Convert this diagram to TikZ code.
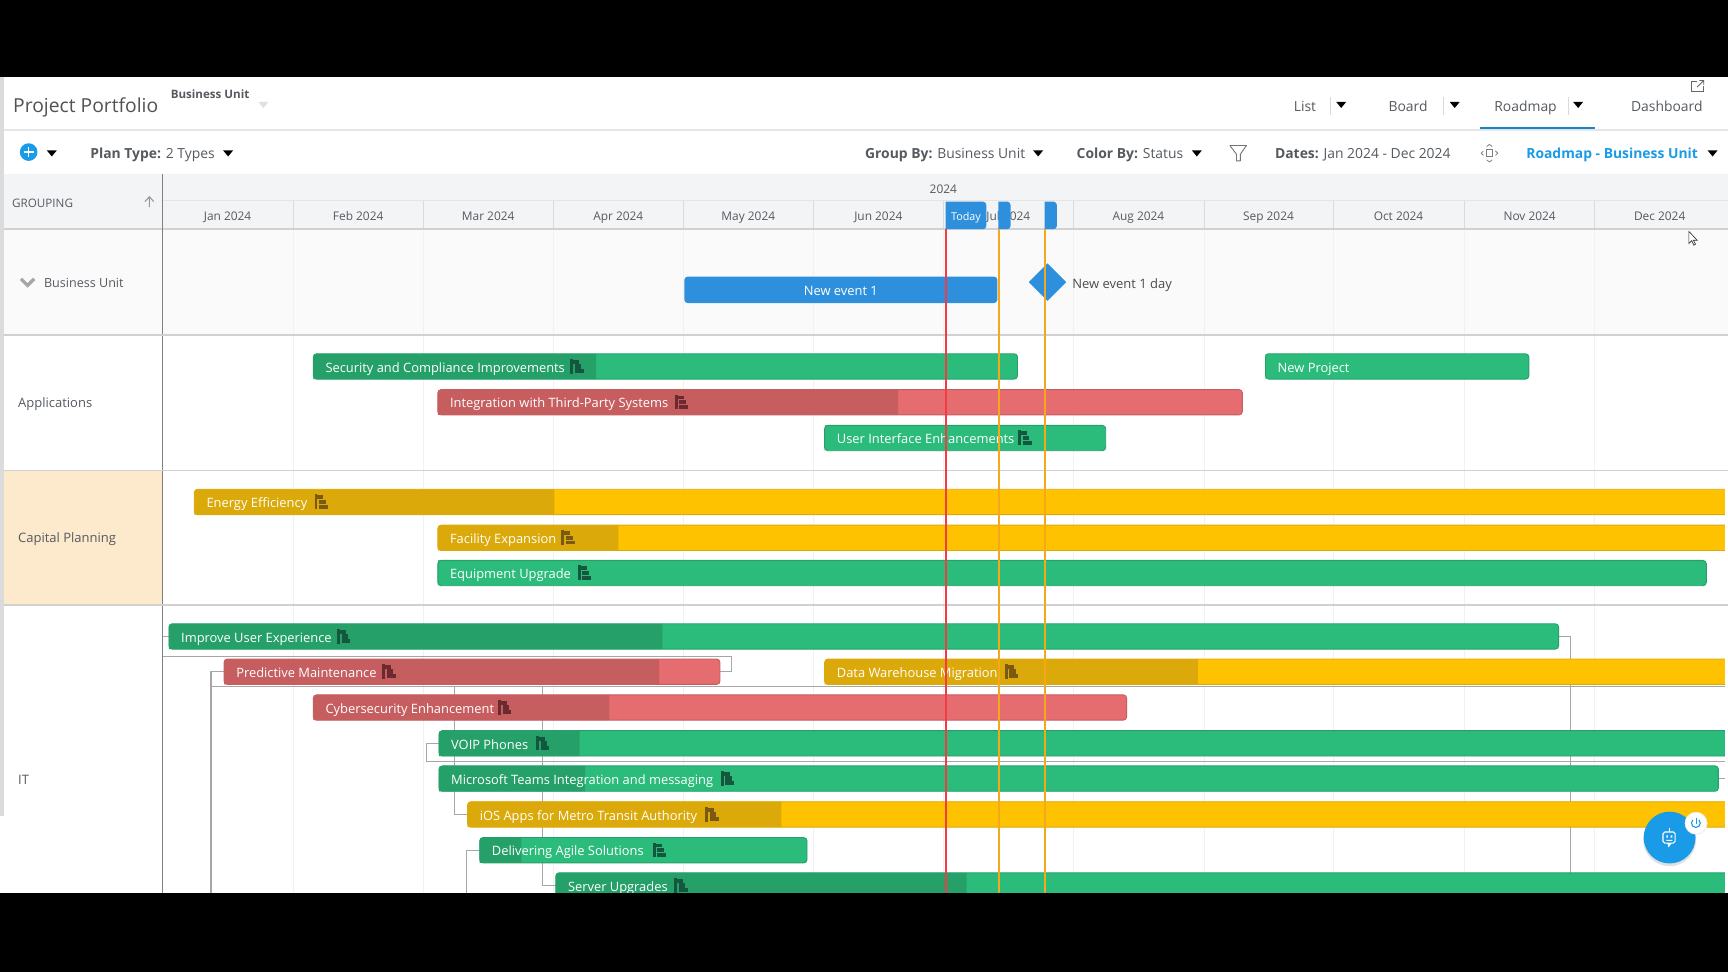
\documentclass[tikz,border=0pt]{standalone}
\usepackage{fontspec}
\setmainfont{Open Sans}
\usetikzlibrary{shapes.geometric}
\definecolor{gbar}{HTML}{2BBB7B}
\definecolor{gbard}{HTML}{25A069}
\definecolor{gbarx}{HTML}{14573E}
\definecolor{rbar}{HTML}{E56C6F}
\definecolor{rbard}{HTML}{C65D5F}
\definecolor{rbarx}{HTML}{6B2A2D}
\definecolor{ybar}{HTML}{FFC200}
\definecolor{ybard}{HTML}{DBA90A}
\definecolor{ybarx}{HTML}{7A5A12}
\definecolor{evblue}{HTML}{2E90DC}
\definecolor{linkblue}{HTML}{1A9BE8}
\definecolor{inktext}{HTML}{555A60}
\definecolor{headbg}{HTML}{F3F4F6}
\definecolor{rowline}{HTML}{D0D0D0}
\definecolor{gridline}{HTML}{F1F1F1}
\definecolor{capbg}{HTML}{FDE9CB}
\definecolor{todayred}{HTML}{F23B45}
\definecolor{markorange}{HTML}{F5A81C}
\pgfdeclarelayer{rows}
\pgfdeclarelayer{links}
\pgfsetlayers{rows,links,main}
\tikzset{
  lab/.style={inner sep=0, outer sep=0, anchor=west, text=inktext, text height=.72em, text depth=.2em, font=\fontsize{6.3pt}{7pt}\selectfont},
  month/.style={lab, anchor=center, font=\fontsize{5.4pt}{7pt}\selectfont},
  grouplab/.style={lab, font=\fontsize{5.9pt}{7pt}\selectfont},
  planbar/.style={rounded corners=1.5pt, minimum height=11.5pt, inner sep=0, outer sep=0, line width=.4pt},
  bartext/.style={lab, text=white, font=\fontsize{5.85pt}{7pt}\selectfont},
  linkline/.style={draw=black!35, line width=.6pt},
  todayline/.style={line width=.9pt},
  planicon/.pic={
    \fill[#1] (-6,-7) rectangle (-3.5,6.5);
    \fill[#1] (-3.5,-6) rectangle (2,-2.5);
    \fill[#1] (-2,-2) rectangle (4,2);
    \fill[#1] (-2,2.5) rectangle (6,6);
  },
  caret/.pic={\fill[#1] (-4.5,-2.5) -- (4.5,-2.5) -- (0,3) -- cycle;},
  caret/.default=black!65
}
\begin{document}
\begin{tikzpicture}[x=.5pt,y=-.5pt]
\useasboundingbox (0,0) rectangle (1568,882);

\coordinate (axis) at (148,0);
\coordinate (rightend) at (1565,0);

% rows and month grid
\begin{pgfonlayer}{rows}
\fill[white] (0,70) rectangle (1568,810);
\fill[black!14] (0,70) rectangle (4,740);
\fill[headbg] (4,158) rectangle (1568,208);
\fill[black!2] (4,208) rectangle (1568,304);
\fill[capbg] (4,427) rectangle (147,549);
\foreach \bx in {266,384,502,620,738,856,974,1093,1210,1329,1447}{
    \draw[gridline, line width=.5pt] (\bx,208) -- (\bx,810);
    \draw[black!14, line width=.5pt] (\bx,182) -- (\bx,208);
}
\draw[black!10, line width=.5pt] (148,182) -- (1568,182);
\draw[black!18, line width=.7pt] (4,208) -- (1568,208);
\end{pgfonlayer}
\draw[black!50, line width=.5pt] (147.5,158) -- (147.5,810);

% top bar
\draw[black!10, line width=.7pt] (4,118) -- (1568,118);
\node[lab, font=\fontsize{8.75pt}{11pt}\selectfont, text=black!68] (title) at (12,96.5) {Project Portfolio};
\node[lab, font=\bfseries\fontsize{5.25pt}{7pt}\selectfont] (unitpick) at (155,84.5) {Business Unit};
\pic at (239,95) {caret=black!12};
\foreach \name/\tx/\sx/\cx/\txt in {list/1174/1207/1217/List,board/1260/1310/1320/Board,road/1356/1423/1432/Roadmap}{
    \node[lab] (\name) at (\tx,96) {\txt};
    \draw[black!15, line width=.4pt] (\sx,88) -- (\sx,104);
    \pic at (\cx,95) {caret};
}
\node[lab] (dash) at (1480,96) {Dashboard};
\draw[linkblue!85!black, line width=1pt] (1343,116.5) -- (1447,116.5);
% expand icon
\draw[black!60, line width=.35pt] (1540,74) -- (1535,74) -- (1535,83) -- (1546,83) -- (1546,78);
\draw[black!60, line width=.35pt] (1540,79) -- (1546,73) (1542,73) -- (1546,73) -- (1546,77);

% second bar
\node[circle, fill=linkblue, minimum size=8pt, inner sep=0] (addbtn) at (26,138) {};
\draw[white, line width=.6pt] (21.5,138) -- (30.5,138) (26,133.5) -- (26,142.5);
\pic at (47,139) {caret};
\node[lab] (plantype) at (82,139) {\textbf{Plan Type:} 2 Types};
\pic at (207,139) {caret};
\node[lab] (groupby) at (785,139) {\textbf{Group By:} Business Unit};
\pic at (942,139) {caret};
\node[lab] (colorby) at (977,139) {\textbf{Color By:} Status};
\pic at (1086,139) {caret};
\draw[black!55, line width=.4pt, line join=round] (1116,132) -- (1131,132) -- (1125.5,140) -- (1125.5,146) -- (1122,146) -- (1122,140) -- cycle;
\node[lab] (dates) at (1157,139) {\textbf{Dates:} Jan 2024 - Dec 2024};
\draw[black!50, line width=.35pt] (1349,136) rectangle (1354,142);
\draw[black!50, line width=.35pt] (1349,133) -- (1351.5,131) -- (1354,133) (1349,145) -- (1351.5,147) -- (1354,145) (1346,137) -- (1344,139) -- (1346,141) (1357,137) -- (1359,139) -- (1357,141);
\node[lab, text=linkblue, font=\bfseries\fontsize{6.3pt}{7pt}\selectfont] (viewname) at (1385,139) {Roadmap - Business Unit};
\pic at (1554,139) {caret};

% grid header
\node[lab, font=\fontsize{5.3pt}{7pt}\selectfont] (grouping) at (11,183) {GROUPING};
\draw[black!40, line width=.5pt] (135.5,188) -- (135.5,179) (131.5,183) -- (135.5,178.5) -- (139.5,183);
\node[month] (year) at (856,170.5) {2024};
\foreach \cx/\txt in {206.5/Jan,325/Feb,443/Mar,561/Apr,679/May,797/Jun,915/Jul,1033/Aug,1151/Sep,1269/Oct,1388/Nov,1506/Dec}{
    \node[month] (m\txt) at (\cx,195) {\txt{} 2024};
}
\fill[evblue] (858,183) [rounded corners=1.5pt] -- (895,183) -- (895,208) [sharp corners] -- (858,208) -- cycle;
\fill[evblue] (906,183) [rounded corners=1.5pt] -- (917,183) -- (917,208) [sharp corners] -- (906,208) -- cycle;
\fill[evblue] (948,183) [rounded corners=1.5pt] -- (959,183) -- (959,208) [sharp corners] -- (948,208) -- cycle;
\node[month, text=white, font=\fontsize{4.9pt}{6pt}\selectfont] (todaytag) at (876.5,195) {Today};

% group labels
\draw[black!35, line width=1.5pt] (19,253) -- (25,259) -- (31,253);
\node[grouplab, font=\fontsize{5.7pt}{7pt}\selectfont] (gbu) at (40,256) {Business Unit};
\node[grouplab] (gapp) at (16.5,365) {Applications};
\node[grouplab] (gcap) at (16.5,487.5) {Capital Planning};
\node[grouplab] (git) at (16.5,707) {IT};

% events
\node[planbar, fill=evblue, minimum width=142pt, minimum height=12pt] (event) at (763,263) {};
\node[bartext, anchor=center] (eventtxt) at (event.center) {New event 1};
\node[diamond, fill=evblue, minimum width=17pt, minimum height=17pt, inner sep=0, outer sep=0] (marker) at (950.5,256) {};
\node[grouplab, text=black!70] (markertxt) at (973,257) {New event 1 day};

% bars
\foreach \name/\xa/\xb/\ym/\xd/\kind/\txt/\xi in {
    security/284/923/332.5/541/gbar/Security and Compliance Improvements/523.5,
    newproj/1148/1387/332.5/1148.5/gbar/New Project/-99,
    integration/397/1127/365/815/rbar/Integration with Third-Party Systems/618.5,
    interface/748/1003/397.5/748.5/gbar/User Interface Enhancements/930,
    energy/176/1575/455.5/503/ybar/Energy Efficiency/291.5,
    facility/397/1575/488/561/ybar/Facility Expansion/515.5,
    equipment/397/1548/520/397.5/gbar/Equipment Upgrade/530.5,
    improve/153/1414/577.5/601/gbar/Improve User Experience/312,
    predictive/203/653/609.5/598/rbar/Predictive Maintenance/353,
    warehouse/748/1575/609.5/1087/ybar/Data Warehouse Migration/918,
    cyber/284/1022/642/553/rbar/Cybersecurity Enhancement/458,
    voip/398/1575/674.5/526/gbar/VOIP Phones/492.5,
    teams/398/1559/706.5/531/gbar/Microsoft Teams Integration and messaging/660,
    ios/424/1575/739/709/ybar/iOS Apps for Metro Transit Authority/646,
    delivering/435/732/771.5/473/gbar/Delivering Agile Solutions/598.5,
    server/504/1575/803.5/877/gbar/Server Upgrades/618}{
    \node[planbar, fill=\kind, draw=\kind d, minimum width={(\xb-\xa)*.5pt}] (\name) at ({(\xa+\xb)/2+.3},\ym) {};
    \fill[\kind d] (\name.south west) [rounded corners=1.5pt] -- (\name.north west) [sharp corners] -- (\xd,{\ym-11.5}) -- (\xd,{\ym+11.5}) -- cycle;
    \node[bartext] (\name-t) at ({\xa+11.4},\ym) {\txt};
    \pic at (\xi,\ym) {planicon=\kind x};
}
\fill[white] (1565,440) rectangle (1568,810);

% dependencies
\coordinate (riseR) at (1425,810);
\coordinate (riseL) at (191.5,810);
\coordinate (riseD) at (423.5,810);
\coordinate (loopA) at (664,596);
\coordinate (loopB) at (387,691);
\coordinate (sillA) at (191.5,623);
\coordinate (dropA) at (412.5,623);
\coordinate (dropB) at (492,623);
\begin{pgfonlayer}{links}
\draw[linkline] (improve.west) -- (improve.west -| axis);
\draw[linkline] (improve.east) -| (riseR);
\draw[linkline] (predictive.east) -| (loopA) -- (loopA -| axis);
\draw[linkline] (predictive.west) -| (riseL);
\draw[linkline] (sillA) -- (sillA -| rightend);
\draw[linkline] (dropA) |- (ios.west);
\draw[linkline] (dropB) |- (server.west);
\draw[linkline] (voip.west) -| (loopB) -- (loopB -| rightend);
\draw[linkline] (teams.east) -- (teams.east -| rightend);
\draw[linkline] (delivering.west) -| (riseD);
\end{pgfonlayer}

% row lines
\foreach \ry in {304,427,549}{
    \draw[rowline, line width=.7pt] (4,\ry) -- (1568,\ry);
}

% today and marker lines
\draw[todayline, todayred] (858.3,208) -- (858.3,810);
\draw[todayline, markorange] (906.3,208) -- (906.3,810);
\draw[todayline, markorange] (948.3,208) -- (948.3,810);

% chat button
\fill[black!12] (1515,762) circle (12pt);
\node[circle, fill=linkblue, minimum size=23.5pt, inner sep=0] (chat) at (1515,760) {};
\node[circle, fill=white, draw=black!8, line width=.3pt, minimum size=10pt, inner sep=0] (chatoff) at (1539,747) {};
\draw[linkblue, line width=.5pt] (1536,744) arc[start angle=225, end angle=-45, radius=4];
\draw[linkblue, line width=.5pt] (1539,742) -- (1539,747.5);
\draw[white, line width=.5pt, rounded corners=.8pt] (1509,755) rectangle (1520,765);
\draw[white, line width=.4pt] (1514.5,755) -- (1514.5,751);
\fill[white] (1513,765) -- (1517,765) -- (1514,769) -- cycle;
\fill[white] (1512,758) rectangle (1513.5,760) (1516,758) rectangle (1517.5,760) (1512,762) rectangle (1517.5,763);

% cursor
\fill[white, draw=black!80, line width=.3pt] (1532.5,210) -- (1532.5,221) -- (1535,218.5) -- (1537,222.5) -- (1538.5,221.5) -- (1536.5,218) -- (1540,218) -- cycle;

% black bands
\fill[black] (0,0) rectangle (1568,70);
\fill[black] (0,810) rectangle (1568,882);
\end{tikzpicture}
\end{document}
